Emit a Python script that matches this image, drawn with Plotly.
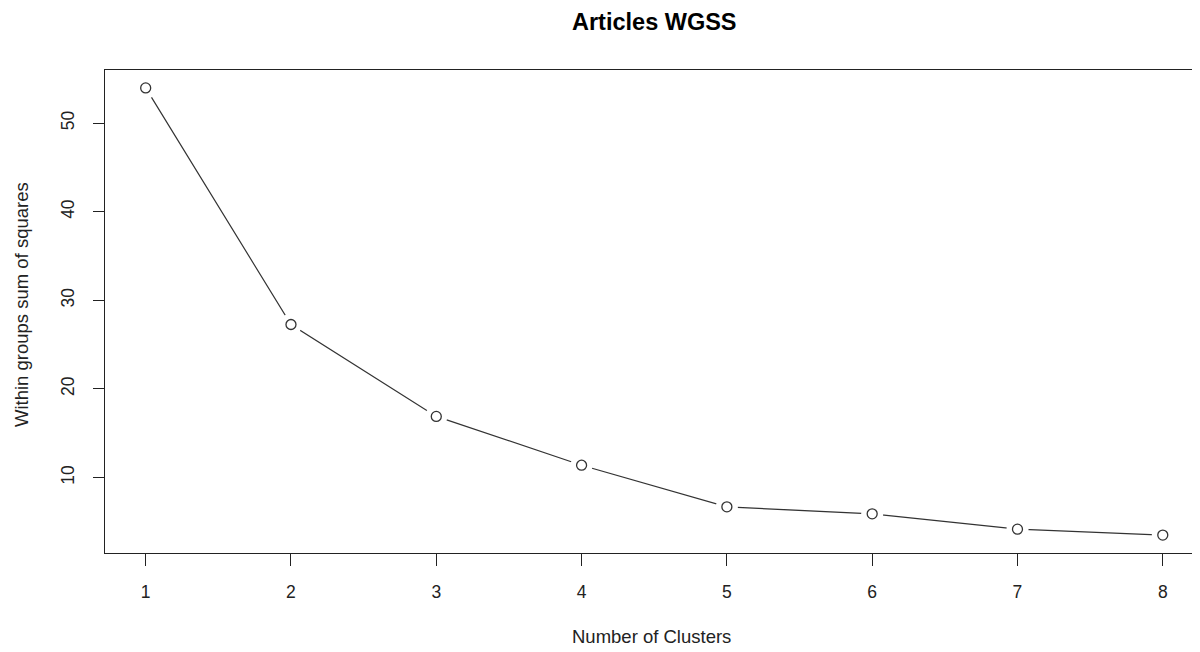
import plotly.graph_objects as go

clusters = [1, 2, 3, 4, 5, 6, 7, 8]
wgss = [53.98, 27.27, 16.9, 11.39, 6.69, 5.9, 4.17, 3.5]
x_ticks = [1, 2, 3, 4, 5, 6, 7, 8]
y_ticks = [10, 20, 30, 40, 50]

title_text = "Articles WGSS"
x_title = "Number of Clusters"
y_title = "Within groups sum of squares"

FONT = "Liberation Sans, Arial, Helvetica, sans-serif"
INK = "#222222"

fig = go.Figure()
fig.add_trace(go.Scatter(x=clusters, y=wgss, mode="lines",
                         line=dict(color="#333333", width=1.2),
                         hoverinfo="skip", showlegend=False))
# white gaps around points (R type = "b")
fig.add_trace(go.Scatter(x=clusters, y=wgss, mode="markers",
                         marker=dict(symbol="circle", size=22, color="white",
                                     line=dict(width=0)),
                         hoverinfo="skip", showlegend=False))
fig.add_trace(go.Scatter(x=clusters, y=wgss, mode="markers",
                         marker=dict(symbol="circle-open", size=10,
                                     color="#333333", line=dict(width=1.3)),
                         showlegend=False))

# page has an 8px body margin; figure coords = page coords - 8
OFF = 8
W, H = 1192, 644
L, R, T, B = 105 - OFF, 0, 70 - OFF, 99
pw, ph = W - L - R, H - T - B


def px(xp):
    return (xp - OFF - L) / pw


def py(yp):
    return (H - B - (yp - OFF)) / ph


fig.update_layout(
    width=W, height=H,
    margin=dict(l=L, r=R, t=T, b=B, pad=0),
    paper_bgcolor="white", plot_bgcolor="white",
    font=dict(family=FONT, size=18, color=INK),
    showlegend=False,
    xaxis=dict(range=[0.72, 0.72 + pw / 145.3], tickvals=x_ticks,
               ticktext=[str(v) for v in x_ticks],
               showgrid=False, zeroline=False,
               showline=True, linecolor=INK, linewidth=1.2, mirror=True,
               ticks="outside", ticklen=12, tickwidth=1.2, tickcolor=INK,
               ticklabelstandoff=11,
               tickfont=dict(family=FONT, size=17.5, color=INK)),
    yaxis=dict(range=[1.48, 56.0], tickvals=y_ticks,
               ticktext=[str(v) for v in y_ticks],
               showgrid=False, zeroline=False,
               showline=True, linecolor=INK, linewidth=1.2, mirror=False,
               ticks="outside", ticklen=11, tickwidth=1.2, tickcolor=INK,
               tickangle=-90, ticklabelstandoff=12,
               tickfont=dict(family=FONT, size=17.5, color=INK)),
    annotations=[
        dict(text="<b>" + title_text + "</b>", xref="paper", yref="paper",
             x=px(654), y=py(22), xanchor="center",
             yanchor="middle", showarrow=False,
             font=dict(family=FONT, size=23.5, color="#000000")),
        dict(text=x_title, xref="paper", yref="paper",
             x=px(651), y=py(636), xanchor="center",
             yanchor="middle", showarrow=False,
             font=dict(family=FONT, size=18.5, color=INK)),
        dict(text=y_title, xref="paper", yref="paper",
             x=px(21), y=py(305), xanchor="center",
             yanchor="middle", textangle=-90, showarrow=False,
             font=dict(family=FONT, size=18.5, color=INK)),
    ],
)

fig.write_html("out.html")
